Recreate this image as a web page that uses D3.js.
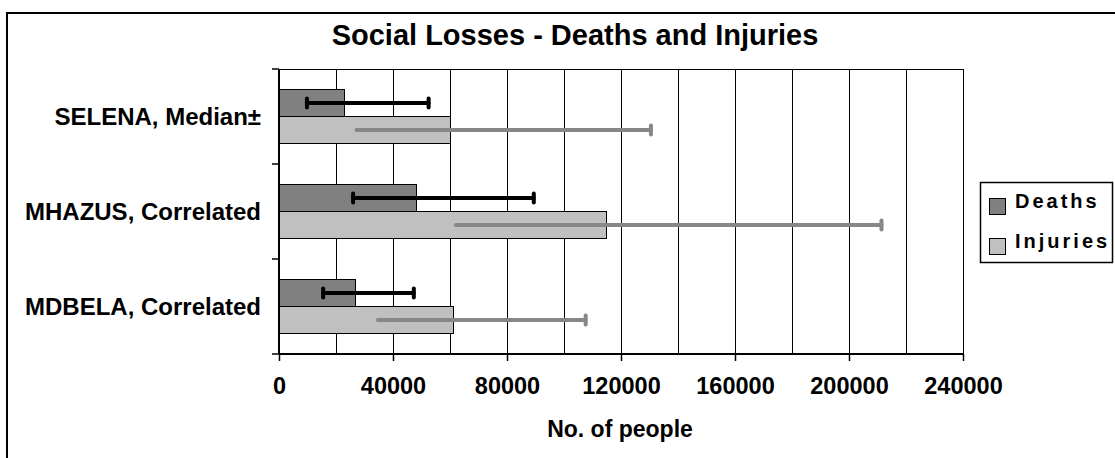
<!DOCTYPE html>
<html><head><meta charset="utf-8">
<script src="https://cdn.jsdelivr.net/npm/d3@7"></script>
<style>html,body{margin:0;padding:0;background:#fff;}svg{display:block;}text{font-family:Arial,"Liberation Sans",sans-serif;font-weight:bold;fill:#000;}</style>
</head><body>
<svg id="c" width="1115" height="458"></svg>
<script>
const categories = ["SELENA, Median\u00b1", "MHAZUS, Correlated", "MDBELA, Correlated"];
const seriesNames = ["Deaths", "Injuries"];
const deaths = [23000, 48300, 27000];
const deathsLow = [9800, 26000, 15500];
const deathsHigh = [52500, 89400, 47300];
const injuries = [60000, 115000, 61300];
const injuriesLow = [27200, 62100, 34700];
const injuriesHigh = [130500, 211400, 107600];
const tickValues = [0, 40000, 80000, 120000, 160000, 200000, 240000];
const gridValues = d3.range(0, 240001, 20000);
const title = "Social Losses - Deaths and Injuries";
const xTitle = "No. of people";

const colors = {Deaths: "#808080", Injuries: "#c0c0c0"};
const errColors = {Deaths: "#000000", Injuries: "#878787"};

const svg = d3.select("#c");
const L = 279, R = 963, T = 69, B = 354;

// outer border (extends past the right/bottom edge)
svg.append("rect").attr("x", 7).attr("y", 13).attr("width", 1200).attr("height", 600)
  .attr("fill", "none").attr("stroke", "#000").attr("stroke-width", 2);

const x = d3.scaleLinear().domain([0, 240000]).range([L, R]);
const y = d3.scaleBand().domain(categories).range([T, B]).padding(0);
const bw = 27;
const ys = d3.scaleBand().domain(seriesNames)
  .range([(y.bandwidth() - 2 * bw) / 2, (y.bandwidth() + 2 * bw) / 2]).padding(0);

// gridlines
svg.append("g").selectAll("line").data(gridValues).join("line")
  .attr("x1", d => x(d)).attr("x2", d => x(d)).attr("y1", T).attr("y2", B)
  .attr("stroke", "#000").attr("stroke-width", 1).attr("shape-rendering", "crispEdges");
// plot border top
svg.append("line").attr("x1", L).attr("x2", R).attr("y1", T).attr("y2", T)
  .attr("stroke", "#000").attr("shape-rendering", "crispEdges");

const rows = categories.map((c, i) => ({
  cat: c,
  vals: [
    {s: "Deaths", v: deaths[i], lo: deathsLow[i], hi: deathsHigh[i]},
    {s: "Injuries", v: injuries[i], lo: injuriesLow[i], hi: injuriesHigh[i]}
  ]
}));

const g = svg.append("g").selectAll("g").data(rows).join("g")
  .attr("transform", d => `translate(0,${y(d.cat)})`);

g.selectAll("rect").data(d => d.vals).join("rect")
  .attr("x", x(0)).attr("y", d => ys(d.s))
  .attr("width", d => x(d.v) - x(0)).attr("height", ys.bandwidth())
  .attr("fill", d => colors[d.s]).attr("stroke", "#000").attr("stroke-width", 1)
  .attr("shape-rendering", "crispEdges");

// error bars
const eb = g.selectAll("g.eb").data(d => d.vals).join("g").attr("class", "eb");
const cy = d => ys(d.s) + ys.bandwidth() / 2;
eb.append("line")
  .attr("x1", d => x(d.lo)).attr("x2", d => x(d.hi))
  .attr("y1", cy).attr("y2", cy)
  .attr("stroke", d => errColors[d.s]).attr("stroke-width", 4).attr("stroke-linecap", "round");
eb.filter(d => d.s === "Deaths").append("line")
  .attr("x1", d => x(d.lo)).attr("x2", d => x(d.lo))
  .attr("y1", d => cy(d) - 4.5).attr("y2", d => cy(d) + 4.5)
  .attr("stroke", d => errColors[d.s]).attr("stroke-width", 4).attr("stroke-linecap", "round");
eb.append("line")
  .attr("x1", d => x(d.hi)).attr("x2", d => x(d.hi))
  .attr("y1", d => cy(d) - 4.5).attr("y2", d => cy(d) + 4.5)
  .attr("stroke", d => errColors[d.s]).attr("stroke-width", 4).attr("stroke-linecap", "round");

// y axis
const yAxisG = svg.append("g");
yAxisG.append("line").attr("x1", L).attr("x2", L).attr("y1", T).attr("y2", B)
  .attr("stroke", "#000").attr("stroke-width", 2);
const bounds = categories.map(c => y(c)).concat([B]);
yAxisG.selectAll("line.t").data(bounds).join("line").attr("class", "t")
  .attr("x1", L - 7).attr("x2", L).attr("y1", d => d).attr("y2", d => d)
  .attr("stroke", "#000").attr("stroke-width", 1.5);
yAxisG.selectAll("text").data(categories).join("text")
  .attr("x", 261).attr("y", d => y(d) + y.bandwidth() / 2 + 8)
  .attr("text-anchor", "end").style("font-size", "24px").text(d => d);

// x axis
const xAxisG = svg.append("g").attr("transform", `translate(0,${B})`)
  .call(d3.axisBottom(x).tickValues(tickValues).tickSize(7).tickSizeOuter(0).tickFormat(d3.format("d")));
xAxisG.select(".domain").attr("stroke-width", 2).attr("d", `M${L},0H${R}`);
xAxisG.selectAll(".tick line").attr("stroke-width", 1.5);
xAxisG.selectAll(".tick text").attr("y", 40).attr("dy", 0)
  .style("font-size", "23.5px").style("font-family", "Arial, 'Liberation Sans', sans-serif").style("font-weight", "bold");

svg.append("text").attr("x", 620).attr("y", 437).attr("text-anchor", "middle")
  .style("font-size", "23px").text(xTitle);
svg.append("text").attr("x", 575).attr("y", 45).attr("text-anchor", "middle")
  .style("font-size", "29px").text(title);

// legend
const lg = svg.append("g");
lg.append("rect").attr("x", 980.5).attr("y", 182.5).attr("width", 132).attr("height", 80)
  .attr("fill", "#fff").attr("stroke", "#000").attr("stroke-width", 1.5);
const li = lg.selectAll("g").data(seriesNames).join("g")
  .attr("transform", (d, i) => `translate(0,${i * 40})`);
li.append("rect").attr("x", 989.5).attr("y", 198.5).attr("width", 16).attr("height", 16)
  .attr("fill", d => colors[d]).attr("stroke", "#000");
li.append("text").attr("x", 1015).attr("y", 207.5).style("font-size", "20px")
  .style("letter-spacing", "3px").text(d => d);
</script>
</body></html>
